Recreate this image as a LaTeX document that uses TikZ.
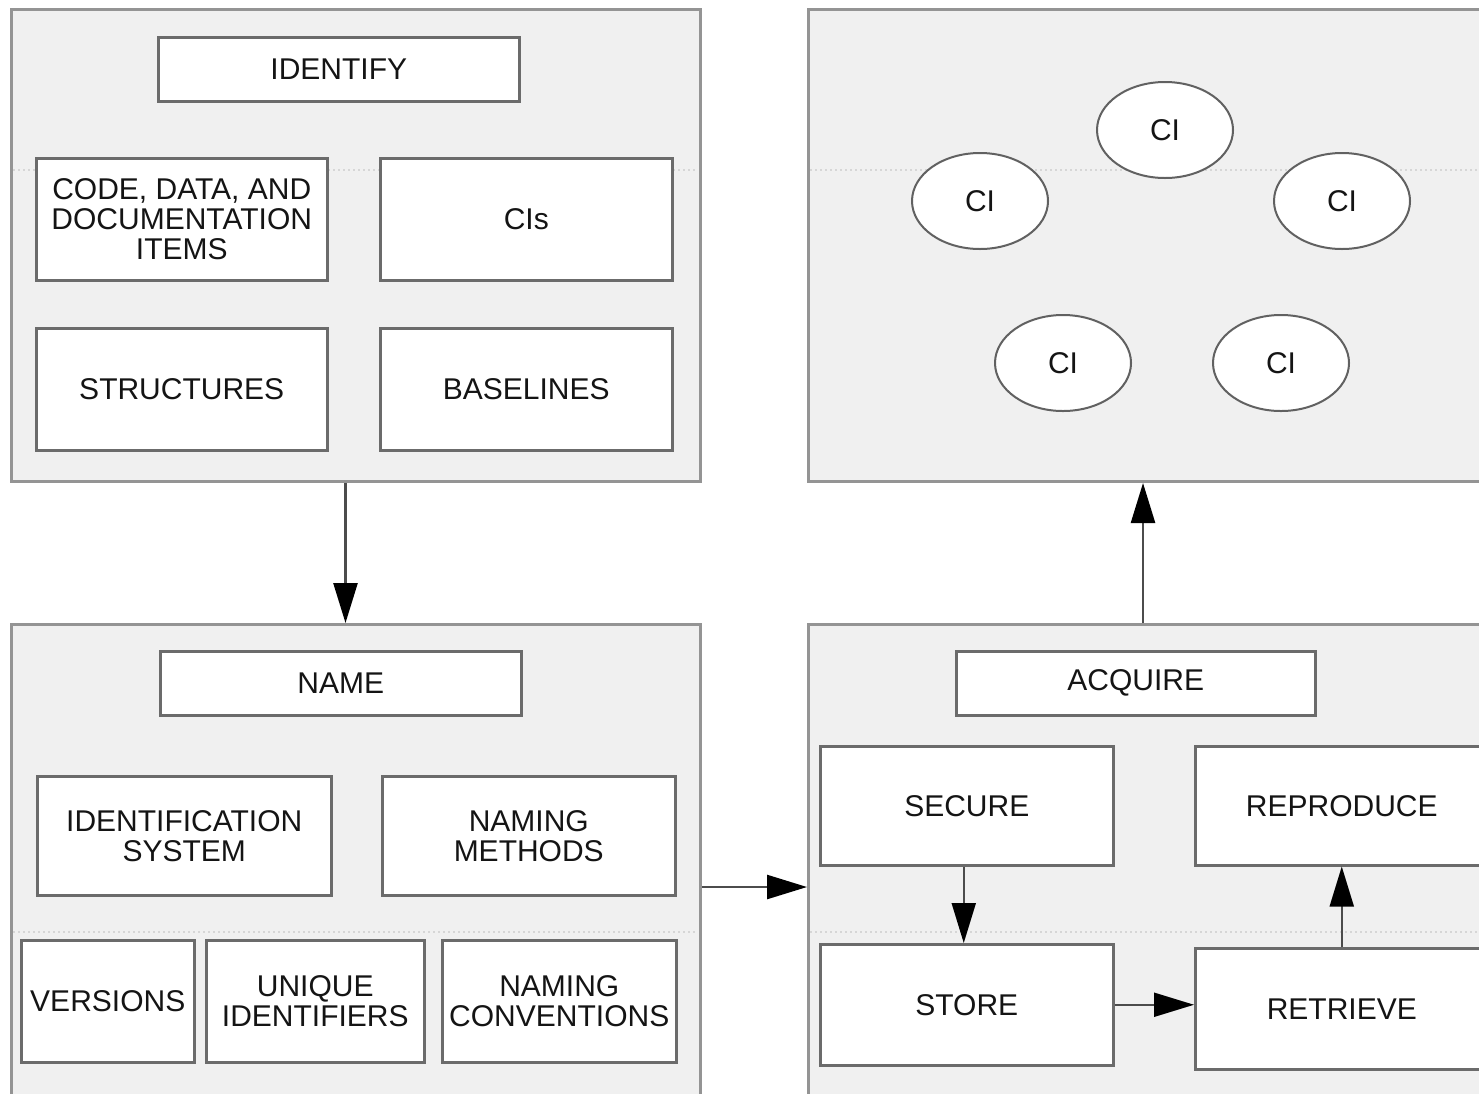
\documentclass[tikz,border=0pt]{standalone}
\usepackage{fontspec}
\setmainfont{Liberation Sans}
\usetikzlibrary{shapes.geometric,arrows.meta}
\begin{document}
\begin{tikzpicture}[x=1pt,y=-1pt,
  panel/.style={draw=black!42, line width=3pt, fill=black!6, rectangle, anchor=north west, inner sep=0pt},
  box/.style={draw=black!58, line width=2.5pt, fill=white, rectangle, anchor=north west, inner sep=0pt, align=center, text=black!92, font=\fontsize{30}{30}\selectfont},
  ci/.style={ellipse, draw=black!62, line width=2pt, fill=white, minimum width=136pt, minimum height=96pt, inner sep=0pt, text=black!92, font=\fontsize{30}{30}\selectfont},
  arr/.style={line width=2.5pt, draw=black!70, -{Triangle[length=40pt,width=24pt,color=black]}},
  texture/.style={draw=black!16, line width=2pt, dash pattern=on 2pt off 3pt}]
\useasboundingbox (0,0) rectangle (1479,1093);
\clip (0,0) rectangle (1479,1093);
\fill[white] (0,0) rectangle (1479,1093);

% panels
\node[panel, minimum width=689pt, minimum height=472pt] (pTL) at (10,8) {};
\node[panel, minimum width=700pt, minimum height=472pt] (pTR) at (807,8) {};
\node[panel, minimum width=689pt, minimum height=490pt] (pBL) at (10,623) {};
\node[panel, minimum width=700pt, minimum height=490pt] (pBR) at (807,623) {};

% faint texture lines
\draw[texture] (13,170) -- (696,170);
\draw[texture] (810,170) -- (1479,170);
\draw[texture] (13,932) -- (696,932);
\draw[texture] (810,932) -- (1479,932);

% IDENTIFY panel
\node[box, minimum width=361pt, minimum height=64pt] (identify) at (157,36) {IDENTIFY};
\node[box, minimum width=291pt, minimum height=122pt] (code) at (35,157) {CODE, DATA, AND\\DOCUMENTATION\\ITEMS};
\node[box, minimum width=292pt, minimum height=122pt] (cis) at (379,157) {CIs};
\node[box, minimum width=291pt, minimum height=122pt] (structures) at (35,327) {STRUCTURES};
\node[box, minimum width=292pt, minimum height=122pt] (baselines) at (379,327) {BASELINES};

% CI panel
\node[ci] (ci1) at (1165,130) {CI};
\node[ci] (ci2) at (980,201) {CI};
\node[ci] (ci3) at (1342,201) {CI};
\node[ci] (ci4) at (1063,363) {CI};
\node[ci] (ci5) at (1281,363) {CI};

% NAME panel
\node[box, minimum width=361pt, minimum height=64pt] (name) at (159,650) {NAME};
\node[box, minimum width=294pt, minimum height=119pt] (idsys) at (36,775) {IDENTIFICATION\\SYSTEM};
\node[box, minimum width=293pt, minimum height=119pt] (methods) at (381,775) {NAMING\\METHODS};
\node[box, minimum width=173pt, minimum height=122pt] (versions) at (20,939) {VERSIONS};
\node[box, minimum width=218pt, minimum height=122pt] (unique) at (205,939) {UNIQUE\\IDENTIFIERS};
\node[box, minimum width=234pt, minimum height=122pt] (conventions) at (441,939) {NAMING\\CONVENTIONS};

% ACQUIRE panel
\node[box, minimum width=359pt, minimum height=64pt] (acquire) at (955,650) {ACQUIRE};
\node[box, minimum width=293pt, minimum height=119pt] (secure) at (819,745) {SECURE};
\node[box, minimum width=293pt, minimum height=119pt] (reproduce) at (1194,745) {REPRODUCE};
\node[box, minimum width=293pt, minimum height=121pt] (store) at (819,943) {STORE};
\node[box, minimum width=293pt, minimum height=121pt] (retrieve) at (1194,947) {RETRIEVE};

% connectors
\coordinate (xa) at (1143,0);
\coordinate (yb) at (0,887);
\draw[arr] ([xshift=-10.5pt]pTL.south) -- ([xshift=-10.5pt]pBL.north);
\draw[arr] (pBR.north -| xa) -- (pTR.south -| xa);
\draw[arr] (pBL.east |- yb) -- (pBR.west |- yb);
\draw[arr, line width=2pt] ([xshift=-3pt]secure.south) -- ([xshift=-3pt]store.north);
\draw[arr, line width=2pt] (store.east) -- (retrieve.west |- store.east);
\draw[arr, line width=2pt] (retrieve.north) -- (reproduce.south);
\end{tikzpicture}
\end{document}
